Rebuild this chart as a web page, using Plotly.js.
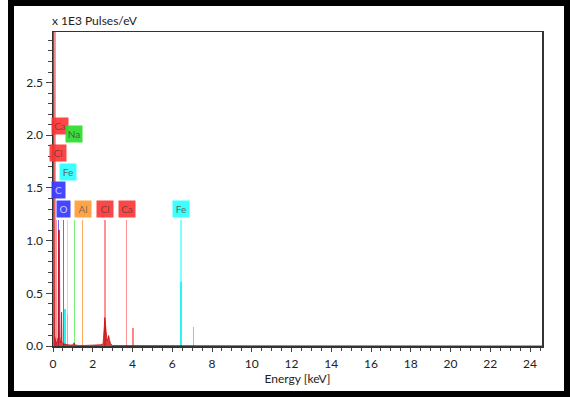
<!DOCTYPE html>
<html>
<head>
<meta charset="utf-8">
<script src="https://cdn.plot.ly/plotly-3.0.1.min.js"></script>
<style>
  html, body { margin: 0; padding: 0; background: #fff; }
  #wrap { position: relative; width: 571px; height: 397px; }
  #chart { position: absolute; left: 0; top: 0; width: 571px; height: 397px; }
  #frame { position: absolute; left: 8px; top: 0px; width: 562px; height: 397px;
           box-sizing: border-box; border: 6px solid #000; pointer-events: none; }
</style>
</head>
<body>
<div id="wrap">
  <div id="chart"></div>
  <div id="frame"></div>
</div>
<script>
// ---- Data ----
// Continuous spectrum (keV, x1E3 pulses/eV)
var specE = [0.02, 0.045, 0.07, 0.10, 0.14, 0.20, 0.26, 0.285, 0.32, 0.345, 0.38, 0.41, 0.43, 0.45, 0.48, 0.55, 0.80, 1.00, 1.06, 1.10, 1.30, 1.60, 2.00, 2.10, 2.40, 2.52, 2.57, 2.61, 2.64, 2.68, 2.72, 2.76, 2.80, 2.84, 2.90, 3.00, 4.50, 10.0, 24.6];
var specY = [3.60, 0.12, 0.10, 0.08, 0.04, 0.03, 0.09, 1.10, 1.10, 0.09, 0.03, 0.06, 0.32, 0.05, 0.02, 0.02, 0.01, 0.01, 0.03, 0.01, 0.005, 0.005, 0.005, 0.012, 0.012, 0.02, 0.18, 0.27, 0.20, 0.08, 0.05, 0.07, 0.10, 0.06, 0.02, 0.005, 0.003, 0.002, 0.001];

// Coloured peaks (zero/noise peak and element peaks)
var peakE  = [0.06, 0.62, 0.73, 4.02, 6.43, 7.07];
var peakH  = [3.60, 0.35, 0.30, 0.17, 0.61, 0.18];
var peakEl = ['noise', 'Fe', 'Fe', 'Ca', 'Fe', 'Fe'];

// Element marker lines
var lineE  = [0.17, 0.28, 0.53, 0.73, 1.07, 1.49, 2.61, 3.70, 6.43];
var lineH  = [1.20, 1.20, 1.20, 1.20, 1.20, 1.20, 1.20, 1.20, 1.20];
var lineEl = ['Cl', 'C', 'O', 'Fe', 'Na', 'Al', 'Cl', 'Ca', 'Fe'];

// Element label boxes
var labelText = ['Ca', 'Na', 'Cl', 'Fe', 'C', 'O', 'Al', 'Cl', 'Ca', 'Fe'];
var labelE    = [0.34, 1.07, 0.24, 0.77, 0.30, 0.52, 1.50, 2.63, 3.71, 6.42];
var labelY    = [2.09, 2.01, 1.83, 1.65, 1.48, 1.30, 1.30, 1.30, 1.30, 1.30];

// Axis text
var xTitle = 'Energy [keV]';
var yUnit  = 'x 1E3 Pulses/eV';

// ---- Styles ----
var boxColor = { Ca: 'rgba(255,50,50,0.9)', Cl: 'rgba(255,50,50,0.9)', Na: 'rgba(50,220,50,0.95)',
                 Fe: 'rgba(50,255,255,0.95)', C: 'rgba(60,60,255,0.95)', O: 'rgba(60,60,255,0.95)',
                 Al: 'rgba(255,160,60,0.95)' };
var textColor = { Ca: '#7a4040', Cl: '#7a4040', Na: '#505a50', Fe: '#5a6a6a', C: '#c8c8ff', O: '#c8c8ff', Al: '#8a6a50' };
var lineColor = { Ca: 'rgba(255,110,110,0.75)', Cl: 'rgba(255,110,110,0.75)', Na: 'rgba(110,240,110,0.9)',
                  Fe: 'rgba(100,255,255,0.85)', C: 'rgba(80,80,255,0.85)', O: 'rgba(80,80,255,0.85)',
                  Al: 'rgba(255,160,80,0.9)' };
var peakColor = { noise: 'rgba(240,130,130,0.8)', Fe: 'rgba(40,245,245,1)', Ca: 'rgba(255,120,120,0.9)' };
var peakWidth = { noise: 0.14, Fe: 0.09, Ca: 0.09 };
var FONT = 'Lato, "Open Sans", sans-serif';

var traces = [
  { type: 'bar', x: lineE, y: lineH, width: 0.07,
    marker: { color: lineEl.map(function (e) { return lineColor[e]; }), line: { width: 0 } },
    hoverinfo: 'skip', showlegend: false },
  { type: 'bar', x: peakE, y: peakH, width: peakEl.map(function (e) { return peakWidth[e]; }),
    marker: { color: peakEl.map(function (e) { return peakColor[e]; }), line: { width: 0 } },
    hoverinfo: 'skip', showlegend: false },
  { type: 'scatter', mode: 'lines', x: specE, y: specY, fill: 'tozeroy',
    line: { color: 'rgba(200,0,0,0.9)', width: 0.8 }, fillcolor: 'rgba(200,0,0,0.75)',
    hoverinfo: 'skip', showlegend: false }
];

var annotations = labelText.map(function (t, i) {
  return { x: labelE[i], y: labelY[i], xref: 'x', yref: 'y', text: t, showarrow: false,
           bgcolor: boxColor[t], borderpad: 1, width: t.length > 1 ? 14 : 11, height: 14,
           font: { family: FONT, size: 10, color: textColor[t] } };
});
annotations.push({ x: 0, y: 1, xref: 'paper', yref: 'paper', xanchor: 'left', yanchor: 'bottom',
                   xshift: -3, yshift: 2, text: yUnit, showarrow: false,
                   font: { family: FONT, size: 12, color: '#222' } });

var layout = {
  width: 571, height: 397,
  margin: { l: 53, r: 29, t: 32, b: 51 },
  paper_bgcolor: '#fff', plot_bgcolor: '#fff',
  barmode: 'overlay', bargap: 0,
  showlegend: false,
  xaxis: {
    range: [0, 24.6], tick0: 0, dtick: 2, ticks: 'outside', ticklen: 4, tickcolor: '#444',
    showline: true, linecolor: '#333', linewidth: 1.5, mirror: true,
    showgrid: false, zeroline: false, ticklabelstandoff: 2,
    minor: { dtick: 0.5, ticks: 'outside', ticklen: 3, tickcolor: '#444', showgrid: false },
    tickfont: { family: FONT, size: 12, color: '#222' },
    title: { text: xTitle, font: { family: FONT, size: 12, color: '#222' }, standoff: 2 }
  },
  yaxis: {
    range: [0, 2.98], tick0: 0, dtick: 0.5, tickformat: '.1f', ticks: 'outside', ticklen: 6, tickcolor: '#444',
    showline: true, linecolor: '#333', linewidth: 1.5, mirror: true,
    showgrid: false, zeroline: false,
    minor: { dtick: 0.1, ticks: 'outside', ticklen: 4, tickcolor: '#444', showgrid: false },
    tickfont: { family: FONT, size: 12, color: '#222' }
  },
  annotations: annotations
};

Plotly.newPlot('chart', traces, layout, { displayModeBar: false, staticPlot: true });
</script>
</body>
</html>
